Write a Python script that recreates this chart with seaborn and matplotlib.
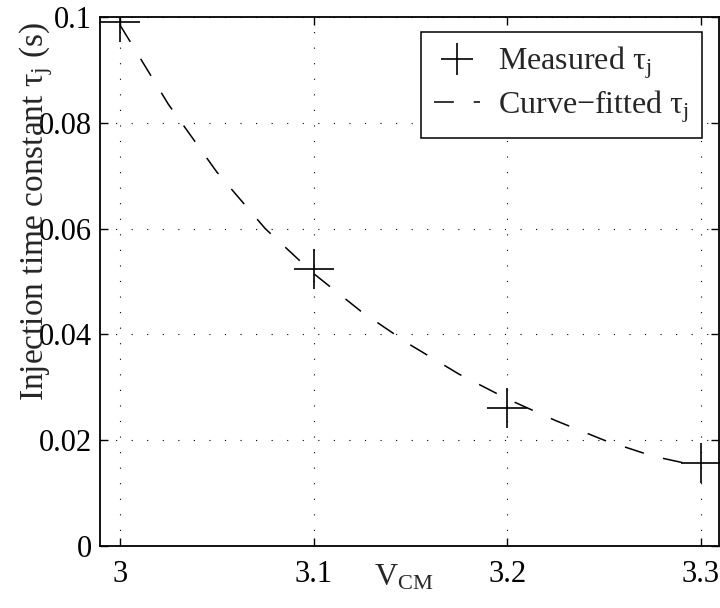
import matplotlib
matplotlib.use("Agg")
import matplotlib.pyplot as plt
import seaborn as sns
import pandas as pd

# data
vcm_measured = [3.0, 3.1, 3.2, 3.3]
tau_measured = [0.0991, 0.0523, 0.0260, 0.0156]
vcm_fit = [3.000, 3.025, 3.050, 3.075, 3.100, 3.125, 3.150, 3.175, 3.200, 3.225, 3.250, 3.275, 3.300]
tau_fit = [0.0985, 0.0835, 0.0707, 0.0600, 0.0515, 0.0442, 0.0380, 0.0325, 0.0278, 0.0237, 0.0200, 0.0170, 0.0150]
xticks = [3.0, 3.1, 3.2, 3.3]
xticklabels = ["3", "3.1", "3.2", "3.3"]
yticks = [0, 0.02, 0.04, 0.06, 0.08, 0.1]
yticklabels = ["0", "0.02", "0.04", "0.06", "0.08", "0.1"]

sns.set_style("ticks")
plt.rcParams["font.family"] = ["Liberation Serif", "DejaVu Serif"]
plt.rcParams["mathtext.fontset"] = "custom"
plt.rcParams["mathtext.rm"] = "Liberation Serif"
plt.rcParams["mathtext.it"] = "Liberation Serif:italic"

FS = 22
fig = plt.figure(figsize=(7.2, 6.08), dpi=100)
ax = fig.add_axes([100/720, 62/608, 619/720, 529/608])

df_fit = pd.DataFrame({"x": vcm_fit, "y": tau_fit})
df_meas = pd.DataFrame({"x": vcm_measured, "y": tau_measured})

sns.lineplot(data=df_fit, x="x", y="y", ax=ax, color="black", lw=1.1,
             legend=False, zorder=3)
line_fit = ax.lines[-1]
line_fit.set_dashes((13, 13))

sns.lineplot(data=df_meas, x="x", y="y", ax=ax, color="black",
             marker="+", markersize=29, markeredgewidth=1.2, markeredgecolor="black",
             legend=False, zorder=4)
line_meas = ax.lines[-1]
line_meas.set_linestyle("none")

ax.set_xlim(2.9897, 3.3093)
ax.set_ylim(0, 0.1)
ax.set_xticks(xticks)
ax.set_xticklabels(xticklabels)
ax.set_yticks(yticks)
ax.set_yticklabels(yticklabels)
ax.tick_params(direction="in", length=6, width=1.0, labelsize=FS, top=True, right=True,
               color="black", labelcolor="black")
ax.tick_params(axis="x", pad=10)
ax.tick_params(axis="y", pad=6)
for s in ax.spines.values():
    s.set_visible(True)
    s.set_linewidth(1.3)
    s.set_color("black")

ax.grid(True, color="black", linestyle=(0, (1, 13)), linewidth=0.8)
ax.set_axisbelow(True)

ax.set_xlabel(r"V$_{\mathrm{CM}}$", fontsize=23)
ax.xaxis.set_label_coords(0.49, -0.033)
ax.xaxis.label.set_va("top")
ax.set_ylabel(r"Injection time constant τ$_{\mathrm{j}}$ (s)", fontsize=24)
ax.yaxis.set_label_coords(-0.072, 0.633)

leg = ax.legend([line_meas, line_fit], [r"Measured τ$_{\mathrm{j}}$", r"Curve$-$fitted τ$_{\mathrm{j}}$"],
                loc="upper right", bbox_to_anchor=(0.9725, 0.9716), fontsize=23, frameon=True,
                fancybox=False, edgecolor="black", framealpha=1, handlelength=1.45,
                handletextpad=0.55, borderpad=0.4, labelspacing=0.22, borderaxespad=0)
leg.get_frame().set_linewidth(1.1)
leg.legend_handles[0].set_markersize(23)

fig.savefig("out.png", dpi=100)
